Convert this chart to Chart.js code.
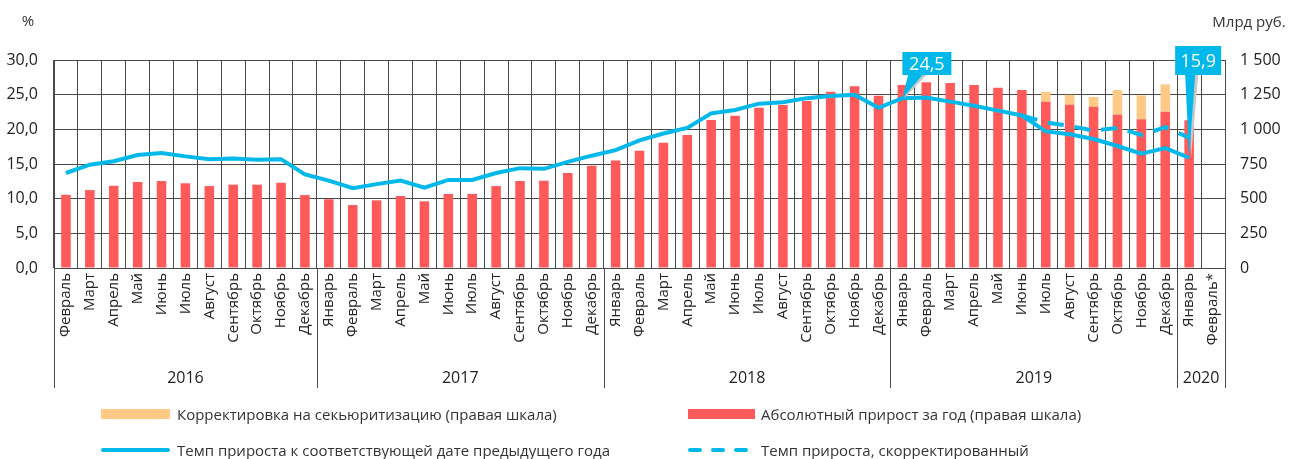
<!DOCTYPE html>
<html lang="ru">
<head>
<meta charset="utf-8">
<script src="https://cdn.jsdelivr.net/npm/chart.js@4"></script>
<style>
    body { margin: 0; background: #fff; }
    #wrap { position: relative; width: 1298px; height: 459px; font-family: 'Open Sans', sans-serif; color: #333; }
    .lg { position: absolute; font-size: 15px; line-height: 18px; white-space: nowrap; }
    .lg svg { position: absolute; }
</style>
</head>
<body>
<div id="wrap">
    <canvas id="creditChart" width="1298" height="459"></canvas>
    <div class="lg" style="left:101px; top:405px;"><svg width="70" height="18" style="left:0;top:0"><rect x="0" y="4" width="69" height="10" fill="#ffca86"/></svg><span style="margin-left:76px">Корректировка на секьюритизацию (правая шкала)</span></div>
    <div class="lg" style="left:688px; top:405px;"><svg width="70" height="18" style="left:0;top:0"><rect x="0" y="4" width="67" height="10" fill="#ff5a5a"/></svg><span style="margin-left:73px">Абсолютный прирост за год (правая шкала)</span></div>
    <div class="lg" style="left:101px; top:441px;"><svg width="70" height="18" style="left:0;top:0"><line x1="2" y1="9" x2="67" y2="9" stroke="#00b9ea" stroke-width="4" stroke-linecap="round"/></svg><span style="margin-left:76px">Темп прироста к соответствующей дате предыдущего года</span></div>
    <div class="lg" style="left:688px; top:441px;"><svg width="70" height="18" style="left:0;top:0"><line x1="2" y1="9" x2="67" y2="9" stroke="#00b9ea" stroke-width="4" stroke-linecap="round" stroke-dasharray="10 13"/></svg><span style="margin-left:73px">Темп прироста, скорректированный</span></div>
</div>
<script>
// подписи месяцев
var months = [
    'Февраль', 'Март', 'Апрель', 'Май', 'Июнь', 'Июль', 'Август', 'Сентябрь', 'Октябрь', 'Ноябрь', 'Декабрь',
    'Январь', 'Февраль', 'Март', 'Апрель', 'Май', 'Июнь', 'Июль', 'Август', 'Сентябрь', 'Октябрь', 'Ноябрь', 'Декабрь',
    'Январь', 'Февраль', 'Март', 'Апрель', 'Май', 'Июнь', 'Июль', 'Август', 'Сентябрь', 'Октябрь', 'Ноябрь', 'Декабрь',
    'Январь', 'Февраль', 'Март', 'Апрель', 'Май', 'Июнь', 'Июль', 'Август', 'Сентябрь', 'Октябрь', 'Ноябрь', 'Декабрь',
    'Январь', 'Февраль*'
];

// годы: подпись, первый и последний индекс месяца
var years = [
    { label: '2016', from: 0, to: 10 },
    { label: '2017', from: 11, to: 22 },
    { label: '2018', from: 23, to: 34 },
    { label: '2019', from: 35, to: 46 },
    { label: '2020', from: 47, to: 48 },
];

// абсолютный прирост за год, млрд руб.
var absoluteGrowth = [
    528, 562, 593, 620, 627, 611, 591, 601, 601, 615, 526,
    496, 454, 488, 519, 481, 534, 534, 591, 627, 629, 685, 738,
    776, 846, 904, 959, 1067, 1098, 1156, 1175, 1205, 1271, 1310, 1242,
    1319, 1340, 1334, 1319, 1300, 1283, 1199, 1177, 1163, 1105, 1073, 1127,
    1065, null
];

// корректировка на секьюритизацию, млрд руб.
var securitization = [
    null, null, null, null, null, null, null, null, null, null, null,
    null, null, null, null, null, null, null, null, null, null, null, null,
    null, null, null, null, null, null, null, null, null, null, null, null,
    null, null, null, null, null, null, 72, 72, 70, 178, 172, 197,
    null, null
];

// темп прироста к соответствующей дате предыдущего года, %
var growthRate = [
    13.7, 14.9, 15.4, 16.3, 16.6, 16.1, 15.7, 15.8, 15.6, 15.7, 13.5,
    12.6, 11.5, 12.1, 12.6, 11.6, 12.7, 12.7, 13.7, 14.4, 14.3, 15.3, 16.2,
    17.0, 18.4, 19.4, 20.2, 22.3, 22.8, 23.7, 23.9, 24.5, 24.8, 25.0, 23.1,
    24.5, 24.6, 24.0, 23.4, 22.7, 22.0, 19.7, 19.3, 18.6, 17.6, 16.5, 17.3,
    15.9, null
];

// темп прироста, скорректированный, %
var growthRateAdj = [
    null, null, null, null, null, null, null, null, null, null, null,
    null, null, null, null, null, null, null, null, null, null, null, null,
    null, null, null, null, null, null, null, null, null, null, null, null,
    null, null, null, null, null, 22.0, 21.0, 20.5, 19.8, 20.2, 19.2, 20.3,
    18.8, null
];

// выноски со значениями
var callouts = [
    { index: 35, text: '24,5', dx: 0, top: 52, w: 49, h: 23, tipFrom: 6, tipTo: 21 },
    { index: 47, text: '15,9', dx: -14, top: 46, w: 46, h: 29, tipFrom: -4, tipTo: 6 },
];

var BLUE = '#00b9ea';
var GRID = '#4a4a4a';
var FONT = "'Open Sans', sans-serif";

function fmt1(v) {
    return v.toFixed(1).replace('.', ',');
}

function fmtThousands(v) {
    return String(v).replace(/\B(?=(\d{3})+(?!\d))/g, ' ');
}

// годы и разделители под осью
var yearsPlugin = {
    id: 'years',
    afterDraw: function (chart) {
        var ctx = chart.ctx;
        var x = chart.scales.x;
        var half = (x.getPixelForValue(1) - x.getPixelForValue(0)) / 2;
        var y0 = chart.chartArea.bottom;
        ctx.save();
        ctx.strokeStyle = GRID;
        ctx.lineWidth = 1;
        ctx.fillStyle = '#222';
        ctx.font = '16px ' + FONT;
        ctx.textAlign = 'center';
        ctx.textBaseline = 'middle';
        years.forEach(function (yr, i) {
            var left = x.getPixelForValue(yr.from) - half;
            var right = x.getPixelForValue(yr.to) + half;
            ctx.beginPath();
            ctx.moveTo(Math.round(left) + 0.5, y0);
            ctx.lineTo(Math.round(left) + 0.5, 388);
            if (i === years.length - 1) {
                ctx.moveTo(Math.round(right) + 0.5, y0);
                ctx.lineTo(Math.round(right) + 0.5, 388);
            }
            ctx.stroke();
            ctx.fillText(yr.label, (left + right) / 2, 378);
        });
        ctx.font = '15px ' + FONT;
        ctx.fillStyle = '#333';
        ctx.fillText('%', 28, 22);
        ctx.fillText('Млрд руб.', 1249, 23);
        ctx.restore();
    },
};

// выноски 24,5 и 15,9
var calloutPlugin = {
    id: 'callouts',
    afterDatasetsDraw: function (chart) {
        var ctx = chart.ctx;
        var meta = chart.getDatasetMeta(2);
        ctx.save();
        callouts.forEach(function (c) {
            var pt = meta.data[c.index];
            var left = pt.x + c.dx;
            var bottom = c.top + c.h;
            var ax = pt.x + c.tipFrom;
            var bx = pt.x + c.tipTo;
            // тень
            ctx.fillStyle = '#c8c8c8';
            ctx.beginPath();
            ctx.moveTo(ax + 2, bottom);
            ctx.lineTo(bx + 3, bottom);
            ctx.lineTo(pt.x + 2, pt.y);
            ctx.closePath();
            ctx.fill();
            ctx.fillStyle = BLUE;
            ctx.beginPath();
            ctx.moveTo(ax, bottom - 1);
            ctx.lineTo(bx, bottom - 1);
            ctx.lineTo(pt.x, pt.y);
            ctx.closePath();
            ctx.fill();
            ctx.fillRect(left, c.top, c.w, c.h);
            ctx.fillStyle = '#fff';
            ctx.font = '18px ' + FONT;
            ctx.textAlign = 'center';
            ctx.textBaseline = 'middle';
            ctx.fillText(c.text, left + c.w / 2, c.top + c.h / 2 + 1);
        });
        ctx.restore();
    },
};

var ctx = document.getElementById('creditChart').getContext('2d');
var chart = new Chart(ctx, {
    type: 'bar',
    data: {
        labels: months,
        datasets: [
            {
                label: 'Абсолютный прирост за год (правая шкала)',
                data: absoluteGrowth,
                backgroundColor: '#ff5a5a',
                yAxisID: 'y1',
                stack: 'abs',
                barPercentage: 0.4,
                categoryPercentage: 1,
                order: 3,
            },
            {
                label: 'Корректировка на секьюритизацию (правая шкала)',
                data: securitization,
                backgroundColor: '#ffca86',
                yAxisID: 'y1',
                stack: 'abs',
                barPercentage: 0.4,
                categoryPercentage: 1,
                order: 3,
            },
            {
                type: 'line',
                label: 'Темп прироста к соответствующей дате предыдущего года',
                data: growthRate,
                borderColor: BLUE,
                borderWidth: 4,
                pointRadius: 0,
                tension: 0,
                yAxisID: 'y',
                order: 2,
            },
            {
                type: 'line',
                label: 'Темп прироста, скорректированный',
                data: growthRateAdj,
                borderColor: BLUE,
                borderWidth: 4,
                borderDash: [16, 11],
                pointRadius: 0,
                tension: 0,
                yAxisID: 'y',
                order: 1,
            },
        ],
    },
    options: {
        responsive: false,
        animation: false,
        layout: { padding: { top: 60, left: 0, right: 0, bottom: 0 } },
        plugins: {
            legend: { display: false },
            tooltip: { enabled: false },
        },
        scales: {
            x: {
                stacked: true,
                afterFit: function (scale) {
                    scale.height = 191;
                },
                grid: { color: GRID, offset: true, drawTicks: false },
                border: { color: GRID },
                ticks: {
                    autoSkip: false,
                    minRotation: 90,
                    maxRotation: 90,
                    padding: 5,
                    color: '#222',
                    font: { family: FONT, size: 15 },
                },
            },
            y: {
                position: 'left',
                min: 0,
                max: 30,
                afterFit: function (scale) {
                    scale.width = 54;
                },
                grid: { color: GRID, drawTicks: false },
                border: { color: GRID },
                ticks: {
                    stepSize: 5,
                    padding: 16,
                    color: '#222',
                    font: { family: FONT, size: 16 },
                    callback: function (v) {
                        return fmt1(v);
                    },
                },
            },
            y1: {
                position: 'right',
                stacked: true,
                min: 0,
                max: 1500,
                afterFit: function (scale) {
                    scale.width = 73;
                },
                grid: { drawOnChartArea: false, drawTicks: false },
                border: { color: GRID },
                ticks: {
                    stepSize: 250,
                    padding: 15,
                    color: '#222',
                    font: { family: FONT, size: 16 },
                    callback: function (v) {
                        return fmtThousands(v);
                    },
                },
            },
        },
    },
    plugins: [yearsPlugin, calloutPlugin],
});
</script>
</body>
</html>
